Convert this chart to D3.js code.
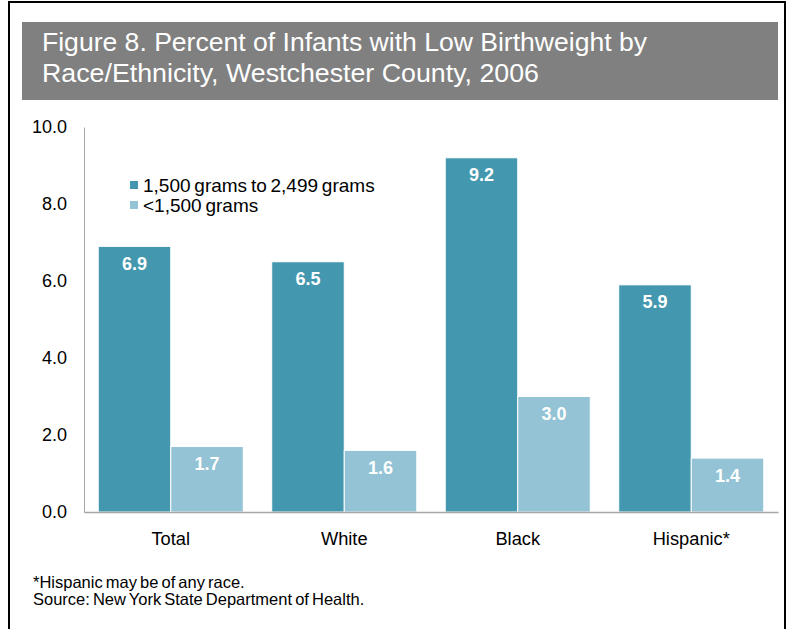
<!DOCTYPE html>
<html>
<head>
<meta charset="utf-8">
<script src="https://cdn.jsdelivr.net/npm/d3@7"></script>
<style>
  body { margin: 0; background: #fff; }
  svg text { font-family: "Liberation Sans", Arial, sans-serif; }
</style>
</head>
<body>
<div id="chart"></div>
<script>
// Chart data
const categories = ['Total', 'White', 'Black', 'Hispanic*'];
const seriesNames = ['1,500 grams to 2,499 grams', '<1,500 grams'];
const moderateLow = [6.9, 6.5, 9.2, 5.9];
const veryLow = [1.7, 1.6, 3.0, 1.4];
const yTicks = [0, 2, 4, 6, 8, 10];
const titleLines = ['Figure 8. Percent of Infants with Low Birthweight by', 'Race/Ethnicity, Westchester County, 2006'];
const notes = ['*Hispanic may be of any race.', 'Source: New York State Department of Health.'];

const colors = ['#4397ae', '#93c3d5'];

const width = 791, height = 629;

const svg = d3.select('#chart')
    .append('svg')
    .attr('width', width)
    .attr('height', height);

// outer frame
svg.append('rect')
    .attr('x', 9).attr('y', 2)
    .attr('width', 776).attr('height', 640)
    .attr('fill', 'none')
    .attr('stroke', '#000')
    .attr('stroke-width', 2);

// title box
svg.append('rect')
    .attr('x', 22).attr('y', 22)
    .attr('width', 756).attr('height', 78)
    .attr('fill', '#808080');

const titleWidths = [605, 497];
svg.append('g').selectAll('text')
    .data(titleLines)
    .enter()
    .append('text')
    .attr('x', 42)
    .attr('y', (d, i) => 51 + i * 31)
    .attr('fill', '#fff')
    .attr('textLength', (d, i) => titleWidths[i])
    .attr('lengthAdjust', 'spacingAndGlyphs')
    .style('font-size', '26px')
    .text(d => d);

// scales
const x = d3.scaleBand()
    .domain(categories)
    .range([84, 778])
    .paddingInner(0.164)
    .paddingOuter(0.082);

const x1 = d3.scaleBand()
    .domain([0, 1])
    .range([0, x.bandwidth()]);

const y = d3.scaleLinear()
    .domain([0, 10])
    .range([512, 127]);

// y axis
const yAxis = svg.append('g')
    .attr('transform', 'translate(84,0)')
    .call(d3.axisLeft(y).tickValues(yTicks).tickSize(0).tickPadding(17).tickFormat(d3.format('.1f')));
yAxis.select('.domain').attr('stroke', '#a6a6a6');
yAxis.selectAll('text')
    .style('font-size', '18px')
    .attr('fill', '#000');

// bars
const rows = categories.map((c, i) => ({cat: c, values: [moderateLow[i], veryLow[i]]}));

const groups = svg.append('g')
    .selectAll('g')
    .data(rows)
    .enter()
    .append('g')
    .attr('transform', d => `translate(${x(d.cat)},0)`);

groups.selectAll('rect')
    .data(d => d.values)
    .enter()
    .append('rect')
    .attr('x', (d, i) => x1(i))
    .attr('y', d => y(d))
    .attr('width', x1.bandwidth())
    .attr('height', d => y(0) - y(d))
    .attr('fill', (d, i) => colors[i])
    .attr('stroke', '#fff')
    .attr('stroke-width', 1);

groups.selectAll('text')
    .data(d => d.values)
    .enter()
    .append('text')
    .attr('x', (d, i) => x1(i) + x1.bandwidth() / 2)
    .attr('y', d => y(d) + 23.5)
    .attr('text-anchor', 'middle')
    .attr('fill', '#fff')
    .style('font-size', '18px')
    .style('font-weight', 'bold')
    .text(d => d3.format('.1f')(d));

// x axis
const xAxis = svg.append('g')
    .attr('transform', `translate(0,${y(0)})`)
    .call(d3.axisBottom(x).tickSize(0).tickPadding(20));
xAxis.select('.domain').attr('stroke', '#a6a6a6').attr('stroke-width', 1.5);
xAxis.selectAll('text')
    .style('font-size', '18.3px')
    .attr('fill', '#000');

// legend
const legend = svg.append('g')
    .attr('transform', 'translate(130,181)');

legend.selectAll('rect')
    .data(seriesNames)
    .enter()
    .append('rect')
    .attr('x', 0)
    .attr('y', (d, i) => i * 20)
    .attr('width', 8)
    .attr('height', 8)
    .attr('fill', (d, i) => colors[i]);

legend.selectAll('text')
    .data(seriesNames)
    .enter()
    .append('text')
    .attr('x', 13)
    .attr('y', (d, i) => i * 20 + 11)
    .style('font-size', '19px')
    .style('word-spacing', '-1.5px')
    .text(d => d);

// footnotes
svg.append('g').selectAll('text')
    .data(notes)
    .enter()
    .append('text')
    .attr('x', 33)
    .attr('y', (d, i) => 588 + i * 17)
    .style('font-size', '16.5px')
    .style('word-spacing', '-1.5px')
    .text(d => d);
</script>
</body>
</html>
